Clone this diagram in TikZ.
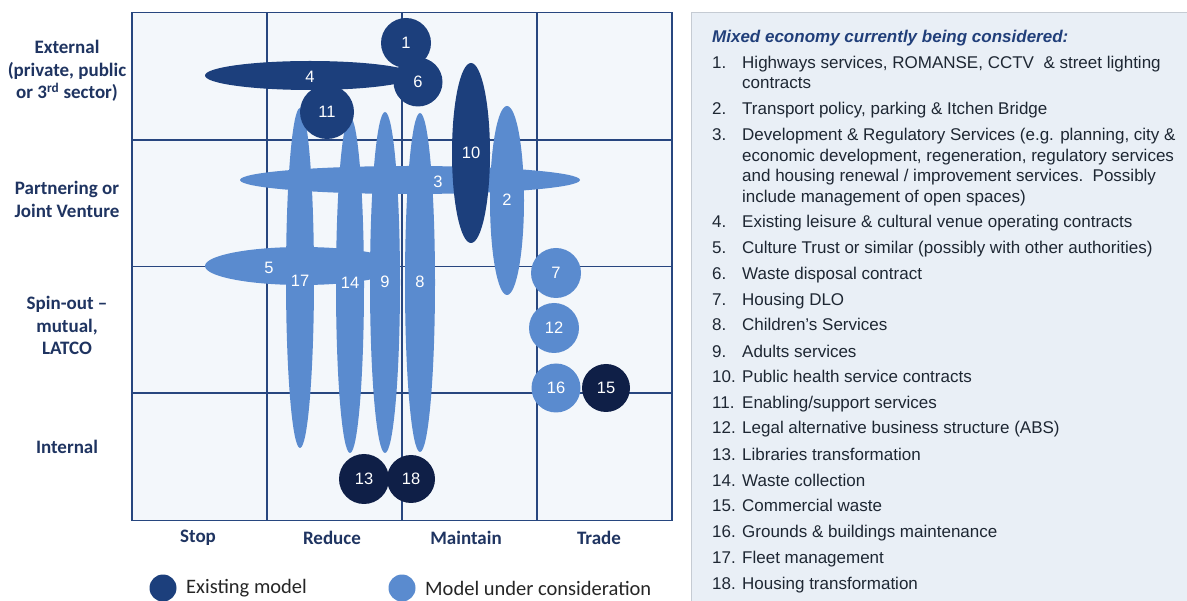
\documentclass[tikz,border=0pt]{standalone}
\usepackage{fontspec}
\setmainfont{Liberation Sans}
\newfontfamily\carlito{Carlito}
\usetikzlibrary{shapes.geometric}
\definecolor{lightb}{HTML}{5A8BCF}
\definecolor{darkb}{HTML}{1C3F7C}
\definecolor{navyb}{HTML}{0F1F47}
\definecolor{gridc}{HTML}{27467F}
\definecolor{cellbg}{HTML}{F3F7FB}
\definecolor{lblc}{HTML}{1F3461}
\definecolor{panelbg}{HTML}{E9EFF6}
\definecolor{panelbd}{HTML}{C5CBD3}
\definecolor{listc}{HTML}{1E2733}
\definecolor{titlec}{HTML}{213F7A}
\begin{document}
\begin{tikzpicture}[x=1pt,y=-1pt,
  blob/.style={ellipse, inner sep=0pt, text=white, font=\fontsize{16.5}{18}\selectfont},
  numlbl/.style={text=white, inner sep=0pt, font=\fontsize{16.5}{18}\selectfont},
  rowlbl/.style={text=lblc, align=center, inner sep=0pt, font=\carlito\bfseries\fontsize{19}{22.5}\selectfont},
  collbl/.style={text=lblc, inner sep=0pt, font=\carlito\bfseries\fontsize{19}{20}\selectfont},
  leglbl/.style={text=black!85, anchor=west, inner sep=0pt, font=\carlito\fontsize{20.5}{22}\selectfont},
  listnum/.style={text=listc, anchor=base west, inner sep=0pt, font=\fontsize{17}{18}\selectfont},
  gridline/.style={draw=gridc, line width=1.6pt}]
\useasboundingbox (0,0) rectangle (1187,601);
\fill[white] (0,0) rectangle (1187,601);

% grid
\fill[cellbg] (132,12.5) rectangle (672,520.5);
\draw[gridline] (132,140) -- (672,140);
\draw[gridline] (132,266.5) -- (672,266.5);
\draw[gridline] (132,393) -- (672,393);
\draw[gridline] (267,12.5) -- (267,520.5);
\draw[gridline] (402,12.5) -- (402,520.5);
\draw[gridline] (537,12.5) -- (537,520.5);
\draw[gridline] (132,12.5) rectangle (672,520.5);

% light shapes
\node[blob, fill=lightb, minimum width=194pt, minimum height=38pt] (e5) at (302,266) {};
\node[blob, fill=lightb, minimum width=340pt, minimum height=28pt] (e3) at (410,180) {};
\node[blob, fill=lightb, minimum width=28pt, minimum height=340pt] (e17) at (300,278) {};
\node[blob, fill=lightb, minimum width=28pt, minimum height=336pt] (e14) at (350,285) {};
\node[blob, fill=lightb, minimum width=30pt, minimum height=341pt] (e9) at (385,282.5) {};
\node[blob, fill=lightb, minimum width=30pt, minimum height=339pt] (e8) at (420,282.5) {};
\node[blob, fill=lightb, minimum width=34pt, minimum height=189pt] (e2) at (507,200.5) {};
\node[blob, fill=lightb, minimum size=50pt] (c7) at (556,273) {7};
\node[blob, fill=lightb, minimum size=50pt] (c12) at (554,328) {12};
\node[blob, fill=lightb, minimum size=49pt] (c16) at (556,388) {16};
\node[numlbl] (l5) at (269,268) {5};
\node[numlbl] (l3) at (438,182) {3};
\node[numlbl] (l17) at (300,281) {17};
\node[numlbl] (l14) at (350,283) {14};
\node[numlbl] (l9) at (385,282) {9};
\node[numlbl] (l8) at (420,282) {8};
\node[numlbl] (l2) at (507,200) {2};

% dark shapes
\node[blob, fill=darkb, minimum width=210pt, minimum height=29pt] (e4) at (310,75.5) {};
\node[numlbl] (l4) at (310,77) {4};
\node[blob, fill=darkb, minimum size=50pt] (c1) at (406,43) {1};
\node[blob, fill=darkb, minimum size=49pt] (c6) at (418,82) {6};
\node[blob, fill=darkb, minimum size=54pt] (c11) at (327,112) {11};
\node[blob, fill=darkb, minimum width=38pt, minimum height=180pt] (e10) at (471,153) {};
\node[numlbl] (l10) at (471,153) {10};

% navy shapes
\node[blob, fill=navyb, minimum size=50pt] (c13) at (364,479) {13};
\node[blob, fill=navyb, minimum size=48pt] (c18) at (411,479) {18};
\node[blob, fill=navyb, minimum size=48pt] (c15) at (606,388) {15};

% row labels
\node[rowlbl] (r1) at (67,71) {External\\(private, public\\or 3\textsuperscript{rd} sector)};
\node[rowlbl] (r2) at (67,199.5) {Partnering or\\Joint Venture};
\node[rowlbl] (r3) at (67,325.5) {Spin-out –\\mutual,\\LATCO};
\node[rowlbl] (r4) at (67,447) {Internal};

% column labels
\node[collbl] (k1) at (198,538) {Stop};
\node[collbl] (k2) at (332,538) {Reduce};
\node[collbl] (k3) at (466,538) {Maintain};
\node[collbl] (k4) at (599,538) {Trade};

% legend
\node[circle, fill=darkb, minimum size=27pt, inner sep=0pt] (g1) at (163,588) {};
\node[leglbl] (g1t) at (186,588) {Existing model};
\node[circle, fill=lightb, minimum size=27pt, inner sep=0pt] (g2) at (402,588) {};
\node[leglbl] (g2t) at (425,588) {Model under consideration};

% right panel
\fill[panelbg] (691.5,12.5) rectangle (1190,601);
\draw[panelbd, line width=1.2pt] (1190,12.5) -- (691.5,12.5) -- (691.5,601);
\node[text=titlec, anchor=base west, inner sep=0pt, font=\bfseries\itshape\fontsize{17}{18}\selectfont] (title) at (712,43) {Mixed economy currently being considered:};

\foreach \n/\y/\t in {
 1./69/{Highways services, ROMANSE, CCTV\ \ \& street lighting},
 /89/{contracts},
 2./115/{Transport policy, parking \& Itchen Bridge},
 3./141/{Development \& Regulatory Services (e.g. planning, city \&},
 /162/{economic development, regeneration, regulatory services},
 /182/{and housing renewal / improvement services.\ \ Possibly},
 /203/{include management of open spaces)},
 4./228/{Existing leisure \& cultural venue operating contracts},
 5./254/{Culture Trust or similar (possibly with other authorities)},
 6./280/{Waste disposal contract},
 7./306/{Housing DLO},
 8./331/{Children's Services},
 9./358/{Adults services},
 10./383/{Public health service contracts},
 11./409/{Enabling/support services},
 12./434/{Legal alternative business structure (ABS)},
 13./461/{Libraries transformation},
 14./487/{Waste collection},
 15./512/{Commercial waste},
 16./538/{Grounds \& buildings maintenance},
 17./564/{Fleet management},
 18./590/{Housing transformation}}{
  \node[listnum] at (712,\y) {\n};
  \node[listnum] at (742,\y) {\t};
}
\end{tikzpicture}
\end{document}
